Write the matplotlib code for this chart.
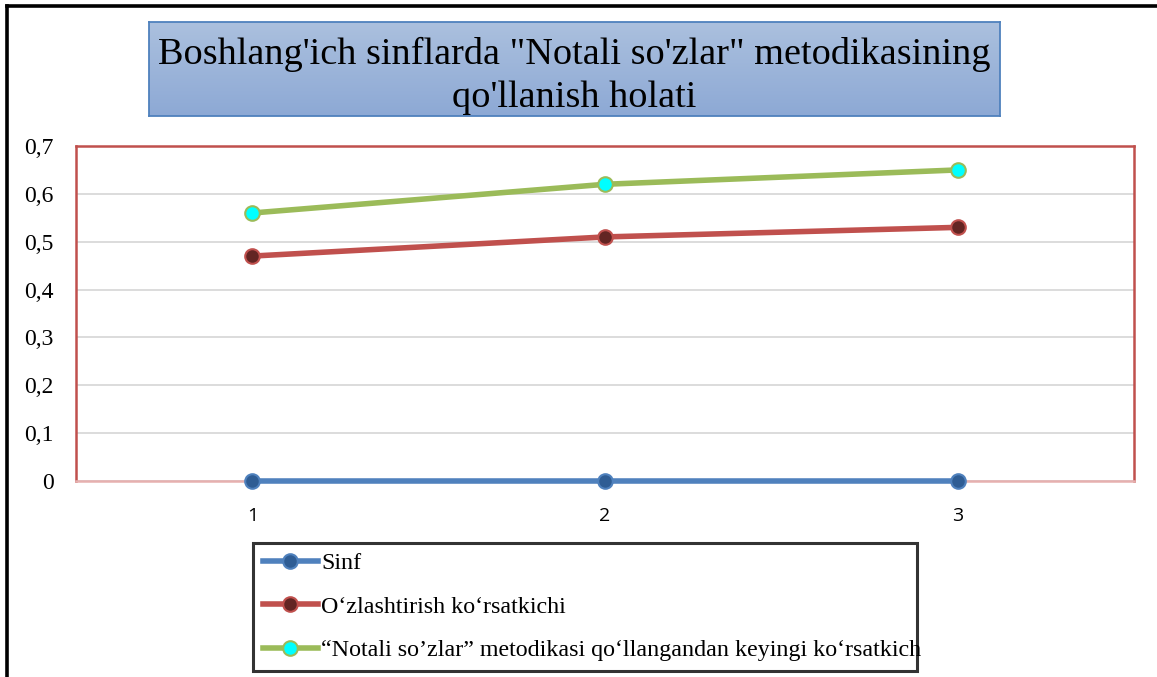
import matplotlib
matplotlib.use("Agg")
import matplotlib.pyplot as plt
import numpy as np
from matplotlib.lines import Line2D
from matplotlib.ticker import FuncFormatter

# ---- data ----
x_labels = ["1", "2", "3"]
x_pos = [1, 2, 3]
sinf = [0, 0, 0]
ozlashtirish = [0.47, 0.51, 0.53]
notali = [0.56, 0.62, 0.65]
series_names = ["Sinf", "O‘zlashtirish ko‘rsatkichi",
                "“Notali so’zlar” metodikasi qo‘llangandan keyingi ko‘rsatkich"]
y_ticks = [0, 0.1, 0.2, 0.3, 0.4, 0.5, 0.6, 0.7]
title_text = "Boshlang'ich sinflarda \"Notali so'zlar\" metodikasining\nqo'llanish holati"

W, H = 1157, 677
fig = plt.figure(figsize=(W / 100, H / 100), dpi=100)
fig.patch.set_facecolor("white")

def fx(px):
    return px / W

def fy(py):
    return 1 - py / H

# outer frame (left and top)
fig.add_artist(Line2D([fx(7), fx(7)], [fy(6), 0], transform=fig.transFigure, color="black", lw=2.6))
fig.add_artist(Line2D([fx(7), 1], [fy(6), fy(6)], transform=fig.transFigure, color="black", lw=2.6))

# main axes
ax_l, ax_r, ax_t, ax_b = 76, 1134, 146, 481
ax = fig.add_axes([fx(ax_l), fy(ax_b), fx(ax_r - ax_l), (ax_b - ax_t) / H])
ax.set_xlim(0.5, 3.5)
ax.set_ylim(0, 0.7)
ax.set_yticks(y_ticks)
ax.yaxis.set_major_formatter(FuncFormatter(lambda v, p: ("%g" % round(v, 1)).replace(".", ",")))
ax.set_xticks(x_pos)
ax.set_xticklabels(x_labels)
ax.grid(axis="y", color="#D9D9D9", lw=1.3)
ax.set_axisbelow(True)
ax.tick_params(axis="both", length=0)
ax.tick_params(axis="y", pad=16, labelsize=17)
ax.tick_params(axis="x", pad=19, labelsize=14)
for lab in ax.get_yticklabels():
    lab.set_fontfamily("Liberation Serif")
for lab in ax.get_xticklabels():
    lab.set_fontfamily("Open Sans")

for side in ["left", "top", "right"]:
    ax.spines[side].set_color("#C0504D")
    ax.spines[side].set_linewidth(1.8)
ax.spines["bottom"].set_color("#E6B0AF")
ax.spines["bottom"].set_linewidth(1.8)

lw = 4.0
ms = 10.5
l1, = ax.plot(x_pos, sinf, color="#4F81BD", lw=lw, marker="o", ms=ms,
              mfc="#2F5D94", mec="#4F81BD", mew=1.5, label=series_names[0], clip_on=False, zorder=3)
l2, = ax.plot(x_pos, ozlashtirish, color="#C0504D", lw=lw, marker="o", ms=ms,
              mfc="#632523", mec="#C0504D", mew=1.5, label=series_names[1], zorder=3)
l3, = ax.plot(x_pos, notali, color="#9BBB59", lw=lw, marker="o", ms=ms,
              mfc="#00FFFF", mec="#9BBB59", mew=1.5, label=series_names[2], zorder=3)

# title box with gradient
tb_l, tb_r, tb_t, tb_b = 149, 1000, 22, 116
tax = fig.add_axes([fx(tb_l), fy(tb_b), fx(tb_r - tb_l), (tb_b - tb_t) / H])
top_c = np.array([0xAB, 0xC0, 0xDE]) / 255
bot_c = np.array([0x8D, 0xA9, 0xD5]) / 255
grad = np.linspace(0, 1, 100)[:, None, None] * (bot_c - top_c) + top_c
grad = np.repeat(grad, 2, axis=1)
tax.imshow(grad, aspect="auto", extent=[0, 1, 0, 1], origin="upper")
tax.set_xlim(0, 1)
tax.set_ylim(0, 1)
tax.set_xticks([])
tax.set_yticks([])
for s in tax.spines.values():
    s.set_color("#4F81BD")
    s.set_linewidth(1.3)
tax.text(0.5, 0.43, title_text, ha="center", va="center", fontsize=27.5,
         fontfamily="Liberation Serif", color="black", linespacing=1.32,
         transform=tax.transAxes)

# legend
leg = fig.legend(handles=[l1, l2, l3], labels=series_names,
                 loc="upper left",
                 bbox_to_anchor=(fx(253), fy(543), fx(917 - 253), 0),
                 mode="expand", frameon=True, fancybox=False,
                 prop={"family": "Liberation Serif", "size": 17.3},
                 handlelength=2.3, handletextpad=0.15, labelspacing=0.9,
                 borderpad=0.4, borderaxespad=0, markerscale=1.0)
leg.get_frame().set_edgecolor("black")
leg.get_frame().set_linewidth(2.2)

fig.savefig("out.png", dpi=100, facecolor="white")
